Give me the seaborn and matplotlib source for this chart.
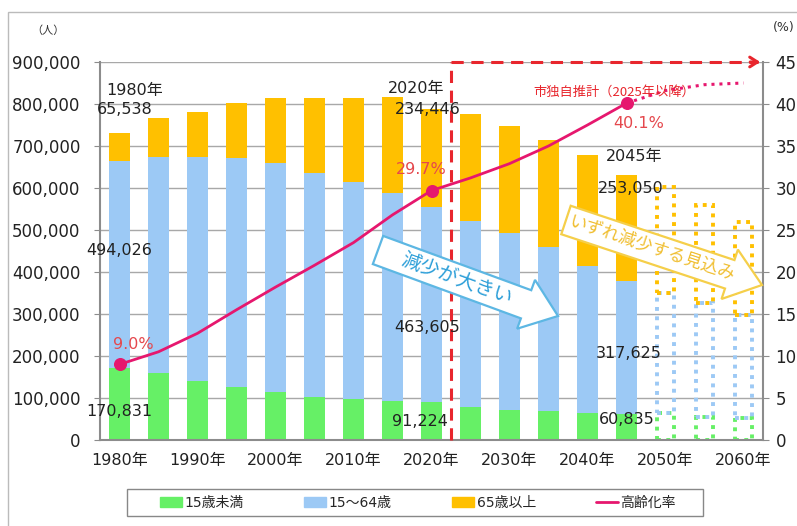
import matplotlib
matplotlib.use("Agg")
import numpy as np
import matplotlib.pyplot as plt
from matplotlib.patches import Patch, Rectangle, FancyArrow
from matplotlib.lines import Line2D
import matplotlib.ticker as mticker
import seaborn as sns
import pandas as pd

# 人口（実績 + 推計）
years = [1980, 1985, 1990, 1995, 2000, 2005, 2010, 2015, 2020, 2025, 2030, 2035, 2040, 2045]
under15 = [170831, 160000, 140500, 127000, 113500, 101600, 97600, 92900, 91224, 79000, 71400, 69800, 63500, 60835]
age15_64 = [494026, 514500, 532500, 543600, 545200, 534800, 517400, 494400, 463605, 443000, 421600, 389200, 350300, 317625]
over65 = [65538, 91500, 108700, 132400, 154800, 177100, 198500, 230200, 234446, 254400, 255600, 256300, 265800, 253050]

# 2050年以降（点線の枠）
proj_years = [2050, 2055, 2060]
proj_under15 = [64000, 55000, 52000]
proj_15_64 = [286000, 271000, 245600]
proj_over65 = [252000, 233500, 222200]

# 高齢化率 (%)
rate = [9.0, 10.5, 12.7, 15.5, 18.2, 20.8, 23.5, 26.8, 29.7, 31.2, 32.9, 35.0, 37.5, 40.1, 41.6, 42.3, 42.5]

all_years = years + proj_years
labels = [f"{y}年" for y in all_years]

green = "#66F066"
blue = "#9CC9F5"
orange = "#FFC000"
line_c = "#E6176E"
red = "#E8262D"
pct_c = "#E5484D"

sns.set_style("white")
plt.rcParams["font.family"] = ["DejaVu Sans", "Noto Sans CJK JP"]

df = pd.DataFrame({"year": labels[:len(years)], "u15": under15, "mid": age15_64, "o65": over65})
df["blue_top"] = df["u15"] + df["mid"]
df["total"] = df["blue_top"] + df["o65"]

W, H = 797, 526
fig = plt.figure(figsize=(W / 100, H / 100), dpi=100)
ax = fig.add_axes([100 / W, 1 - 440 / H, 663 / W, 378 / H])

# stacked bars: draw totals first, then cover with lower parts
for col, c in [("total", orange), ("blue_top", blue), ("u15", green)]:
    sns.barplot(data=df, x="year", y=col, order=labels, color=c, width=0.54,
                saturation=1, errorbar=None, linewidth=0, ax=ax)

# projected bars as dotted outlines
ppos = [all_years.index(y) for y in proj_years]
top_bottom = [a + b for a, b in zip(proj_under15, proj_15_64)]
dot = (0, (1, 1.4))
ax.bar(ppos, proj_under15, width=0.42, fill=False, edgecolor=green, linestyle=dot, linewidth=2.8)
ax.bar(ppos, proj_15_64, bottom=proj_under15, width=0.42, fill=False, edgecolor=blue, linestyle=dot, linewidth=2.8)
ax.bar(ppos, proj_over65, bottom=top_bottom, width=0.42, fill=False, edgecolor=orange, linestyle=dot, linewidth=2.8)

ax.set_ylim(0, 900000)
ax.set_yticks(range(0, 900001, 100000))
ax.yaxis.set_major_formatter(mticker.FuncFormatter(lambda v, p: f"{int(v):,}"))
ax.yaxis.grid(True, color="#A8A8A8", lw=1)
ax.set_axisbelow(True)
ax.set_xlabel("")
ax.set_ylabel("")
ax.set_xticks(range(0, len(all_years), 2))
ax.set_xticklabels(labels[::2])
ax.set_xticks([i - 0.5 for i in range(len(all_years) + 1)], minor=True)
ax.tick_params(axis="x", which="major", length=0, pad=9, labelsize=11.5, labelcolor="#222222")
ax.tick_params(axis="x", which="minor", length=4, color="#8C8C8C")
ax.tick_params(axis="y", length=4, pad=10, labelsize=12, color="#8C8C8C", labelcolor="#222222")
for s in ["left", "bottom"]:
    ax.spines[s].set_color("#8C8C8C")
    ax.spines[s].set_linewidth(1.5)
ax.spines["top"].set_visible(False)
ax.spines["right"].set_visible(False)

# aging rate on right axis
ax2 = ax.twinx()
n = len(years)
sns.lineplot(x=list(range(n)), y=rate[:n], color=line_c, lw=2, ax=ax2)
sns.lineplot(x=list(range(n - 1, len(all_years))), y=rate[n - 1:], color=line_c, lw=2.2,
             linestyle=(0, (1, 1.6)), ax=ax2)
mk = [0, years.index(2020), years.index(2045)]
ax2.scatter(mk, [rate[i] for i in mk], s=70, color=line_c, zorder=5)
ax2.set_ylim(0, 45)
ax2.set_yticks(range(0, 46, 5))
ax2.set_ylabel("")
ax2.tick_params(axis="y", length=4, pad=5, labelsize=12, color="#8C8C8C", labelcolor="#222222")
ax2.spines["right"].set_color("#8C8C8C")
ax2.spines["right"].set_linewidth(1.5)
for s in ["left", "top", "bottom"]:
    ax2.spines[s].set_visible(False)
ax.set_xlim(-0.5, len(all_years) - 0.5)

# projection boundary (red dashed)
bx = years.index(2020) + 0.5
ax2.plot([bx, bx], [0, 45], color=red, lw=2.2, linestyle=(0, (4, 2.5)), clip_on=False, zorder=6)
ax2.plot([bx, len(all_years) - 0.62], [45, 45], color=red, lw=2.2, linestyle=(0, (4, 2.5)),
         clip_on=False, zorder=6)
ax2.annotate("", xy=(len(all_years) - 0.5, 45), xytext=(len(all_years) - 0.9, 45),
             arrowprops=dict(arrowstyle="->,head_length=0.55,head_width=0.35", color=red, lw=2.2),
             annotation_clip=False, zorder=6)
ax2.text(12.68, 41.4, "市独自推計（2025年以降）", color=red, fontsize=9.5,
         ha="center", va="center", family=["Noto Sans CJK JP"])

# value labels
T = ax.transData
def lab(x, y, s, color="#222222", size=11.5):
    ax2.text(x, y, s, transform=T, ha="center", va="center", fontsize=size, color=color, zorder=8)

lab(0.38, 831000, f"{years[0]}年")
lab(0.14, 788000, f"{over65[0]:,}")
lab(0.0, 452000, f"{age15_64[0]:,}")
lab(0.0, 66700, f"{under15[0]:,}")
i20 = years.index(2020)
lab(7.6, 838000, f"{years[i20]}年")
lab(7.9, 786000, f"{over65[i20]:,}")
lab(7.88, 269000, f"{age15_64[i20]:,}")
lab(7.7, 43000, f"{under15[i20]:,}")
i45 = years.index(2045)
lab(13.19, 674000, f"{years[i45]}年")
lab(13.1, 600000, f"{over65[i45]:,}")
lab(13.06, 205000, f"{age15_64[i45]:,}")
lab(13.0, 50000, f"{under15[i45]:,}")

ax2.text(0.35, 11.4, f"{rate[0]:.1f}%", color=pct_c, fontsize=11.5, ha="center", va="center", zorder=8)
ax2.text(7.73, 32.2, f"{rate[i20]:.1f}%", color=pct_c, fontsize=11.5, ha="center", va="center", zorder=8)
ax2.text(13.3, 37.7, f"{rate[i45]:.1f}%", color=pct_c, fontsize=11.5, ha="center", va="center", zorder=8)


# block arrows (figure pixel coords, y measured from top)
def block_arrow(x0, y0, x1, y1, text, tcol, ecol, size):
    ang = np.degrees(np.arctan2(y0 - y1, x1 - x0))
    arr = FancyArrow(x0, H - y0, x1 - x0, (H - y1) - (H - y0), width=30, head_width=52,
                     head_length=34, length_includes_head=True, transform=None,
                     fc="white", ec=ecol, lw=1.6, zorder=7)
    fig.add_artist(arr)
    ux, uy = (x1 - x0), (y1 - y0)
    L = np.hypot(ux, uy)
    cx = x0 + ux * 0.44
    cy = y0 + uy * 0.44
    fig.text(cx, H - cy, text, transform=None, rotation=ang, rotation_mode="anchor",
             ha="center", va="center", fontsize=size, color=tcol,
             family=["Noto Sans CJK JP"], zorder=8)


block_arrow(378, 250, 558, 316, "減少が大きい", "#2B9ED8", "#5DB7E3", 14)
block_arrow(566, 220, 762, 285, "いずれ減少する見込み", "#F0BE30", "#F5CF4A", 12.5)

# unit labels
fig.text(48 / W, 1 - 31 / H, "（人）", ha="center", va="center", fontsize=8, color="#333333")
fig.text(784 / W, 1 - 28 / H, "(%)", ha="center", va="center", fontsize=9, color="#333333")

# legend
handles = [Patch(color=green), Patch(color=blue), Patch(color=orange), Line2D([], [], color=line_c, lw=2)]
names = ["15歳未満", "15～64歳", "65歳以上", "高齢化率"]
fig.legend(handles, names, loc="center", bbox_to_anchor=(418 / W, 1 - 503 / H), ncol=4,
           frameon=False, fontsize=10, handlelength=1.6, handleheight=0.8, handletextpad=0.2,
           columnspacing=4.3)
fig.add_artist(Rectangle((127 / W, 1 - 516 / H), 576 / W, 27 / H, transform=fig.transFigure,
                         fill=False, ec="#888888", lw=1))
# outer frame
fig.add_artist(Rectangle((8 / W, -0.2), 1.2, 1.2 - 12 / H, transform=fig.transFigure,
                         fill=False, ec="#BBBBBB", lw=1))

fig.savefig("out.png", dpi=100)
